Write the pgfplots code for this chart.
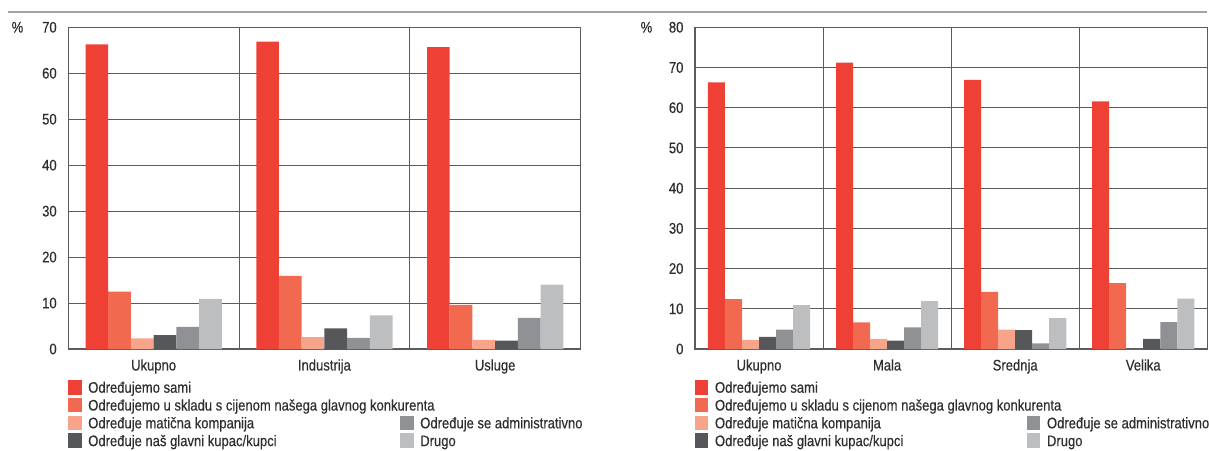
\documentclass[border=0pt]{standalone}
\usepackage{pgfplots}
\usepackage{pgfplotstable}
\pgfplotsset{compat=1.18}
\usepackage{fontspec}
\setmainfont{Liberation Sans}[FakeStretch=0.85, FakeBold=0.35]

\definecolor{cRed}{HTML}{EE4035}
\definecolor{cSalmon}{HTML}{F16A50}
\definecolor{cLight}{HTML}{F7A48B}
\definecolor{cDark}{HTML}{55575A}
\definecolor{cMid}{HTML}{8F9194}
\definecolor{cLGray}{HTML}{BCBEC0}
\definecolor{cText}{HTML}{2E2E2E}
\definecolor{cLine}{HTML}{5C5C5C}
\definecolor{cRule}{HTML}{A3A3A3}

% x = group index
\pgfplotstableread{
x  sami  uskladu maticna kupac admin drugo
0  66.3  12.5    2.3     3.0   4.8   10.9
1  66.9  15.9    2.6     4.5   2.4   7.3
2  65.7  9.6     2.0     1.8   6.8   14.0
}\sektor

\pgfplotstableread{
x  sami  uskladu maticna kupac admin drugo
0  66.3  12.4    2.3     3.0   4.8   10.9
1  71.2  6.6     2.5     2.1   5.4   11.9
2  66.9  14.2    4.8     4.7   1.4   7.7
3  61.6  16.4    0.0     2.5   6.7   12.5
}\velicina

\newcommand{\lw}[1]{\makebox[229pt][l]{#1}}
\newcommand{\tf}{\fontsize{11.5}{13}\selectfont}

\pgfplotsset{
  sq/.style={legend image code/.code={\fill[##1, draw=none] (0pt,-5.5pt) rectangle (10pt,5.5pt);}},
  bars/.style={
    scale only axis, width=384.2pt, height=241.3pt,
    ybar=0pt, bar width=0.133,
    ymin=0, ytick distance=10,
    enlargelimits=false, clip=false,
    major tick length=0pt, minor tick length=0pt,
    ymajorgrids, xminorgrids,
    axis line style={draw=cLine, line width=0.8pt},
    major grid style={draw=cLine, line width=0.7pt},
    minor grid style={draw=cLine, line width=0.7pt},
    /pgf/number format/assume math mode=true,
    tick label style={font=\tf, text=cText},
    yticklabel style={inner sep=0pt, xshift=-8.5pt},
    xticklabel style={anchor=base, inner sep=0pt, yshift=-16.1pt},
    legend columns=2,
    legend cell align=left,
    legend style={at={(0,0)}, anchor=north west, yshift=-22pt,
      draw=none, fill=none, inner sep=0pt, outer sep=0pt,
      column sep=5pt, row sep=0pt,
      font=\tf, text=cText,
      nodes={inner sep=0pt, text height=10.78pt, text depth=2.57pt}},
  },
}

\begin{document}
\begin{tikzpicture}
\useasboundingbox (0,0) rectangle (906.75pt,-337.5pt);
\draw[cRule, line width=1.5pt] (6pt,-9pt) -- (905.25pt,-9pt);

\begin{axis}[bars, at={(51.2pt,-261.75pt)}, anchor=south west,
  xmin=-0.5, xmax=2.5, ymax=70,
  xtick={0,1,2}, xticklabels={Ukupno, Industrija, Usluge},
  minor xtick={0.5,1.5}]
\addlegendimage{sq, fill=cRed} \addlegendentry{\lw{Određujemo sami}}
\addlegendimage{empty legend} \addlegendentry{}
\addlegendimage{sq, fill=cSalmon} \addlegendentry{\lw{Određujemo u skladu s cijenom našega glavnog konkurenta}}
\addlegendimage{empty legend} \addlegendentry{}
\addlegendimage{sq, fill=cLight} \addlegendentry{\lw{Određuje matična kompanija}}
\addlegendimage{sq, fill=cMid} \addlegendentry{Određuje se administrativno}
\addlegendimage{sq, fill=cDark} \addlegendentry{\lw{Određuje naš glavni kupac/kupci}}
\addlegendimage{sq, fill=cLGray} \addlegendentry{Drugo}
\addplot[fill=cRed, draw=none] table[x=x, y=sami] {\sektor};
\addplot[fill=cSalmon, draw=none] table[x=x, y=uskladu] {\sektor};
\addplot[fill=cLight, draw=none] table[x=x, y=maticna] {\sektor};
\addplot[fill=cDark, draw=none] table[x=x, y=kupac] {\sektor};
\addplot[fill=cMid, draw=none] table[x=x, y=admin] {\sektor};
\addplot[fill=cLGray, draw=none] table[x=x, y=drugo] {\sektor};
\node[font=\tf, text=cText, xshift=-38.1pt] at (rel axis cs:0,1) {\%};
\end{axis}

\begin{axis}[bars, at={(521.25pt,-261.75pt)}, anchor=south west,
  xmin=-0.5, xmax=3.5, ymax=80,
  xtick={0,1,2,3}, xticklabels={Ukupno, Mala, Srednja, Velika},
  minor xtick={0.5,1.5,2.5}]
\addlegendimage{sq, fill=cRed} \addlegendentry{\lw{Određujemo sami}}
\addlegendimage{empty legend} \addlegendentry{}
\addlegendimage{sq, fill=cSalmon} \addlegendentry{\lw{Određujemo u skladu s cijenom našega glavnog konkurenta}}
\addlegendimage{empty legend} \addlegendentry{}
\addlegendimage{sq, fill=cLight} \addlegendentry{\lw{Određuje matična kompanija}}
\addlegendimage{sq, fill=cMid} \addlegendentry{Određuje se administrativno}
\addlegendimage{sq, fill=cDark} \addlegendentry{\lw{Određuje naš glavni kupac/kupci}}
\addlegendimage{sq, fill=cLGray} \addlegendentry{Drugo}
\addplot[fill=cRed, draw=none] table[x=x, y=sami] {\velicina};
\addplot[fill=cSalmon, draw=none] table[x=x, y=uskladu] {\velicina};
\addplot[fill=cLight, draw=none] table[x=x, y=maticna] {\velicina};
\addplot[fill=cDark, draw=none] table[x=x, y=kupac] {\velicina};
\addplot[fill=cMid, draw=none] table[x=x, y=admin] {\velicina};
\addplot[fill=cLGray, draw=none] table[x=x, y=drugo] {\velicina};
\node[font=\tf, text=cText, xshift=-36.4pt] at (rel axis cs:0,1) {\%};
\end{axis}
\end{tikzpicture}
\end{document}
